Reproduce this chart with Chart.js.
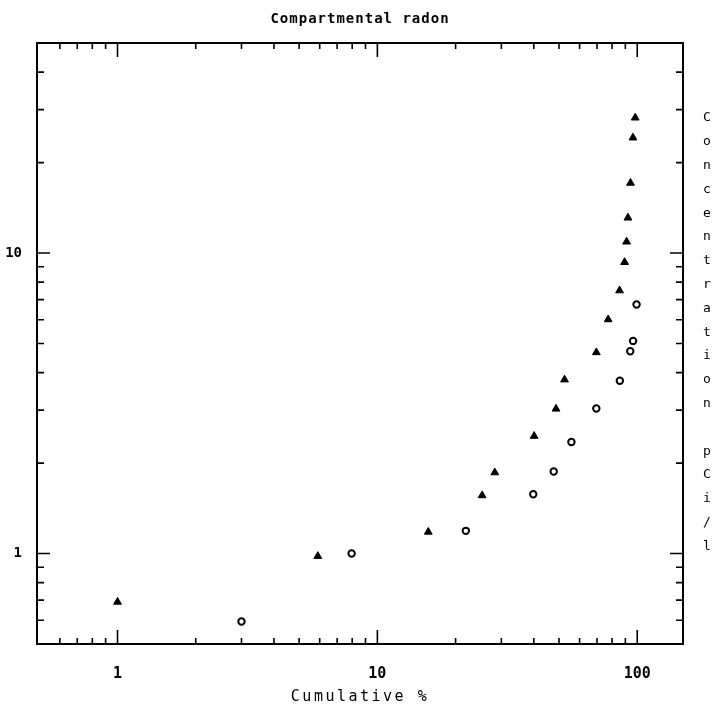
<!DOCTYPE html>
<html><head><meta charset="utf-8">
<script src="https://cdn.jsdelivr.net/npm/chart.js@4/dist/chart.umd.min.js"></script>
<style>html,body{margin:0;padding:0;background:#fff}#wrap{width:715px;height:718px;position:relative}</style>
</head><body><div id="wrap"><canvas id="c" width="715" height="718"></canvas></div>
<script>
// Data
const filledX = [1.0, 5.9, 15.7, 25.3, 28.3, 40.1, 48.7, 52.5, 69.6, 77.3, 85.5, 89.4, 91.0, 92.1, 94.2, 96.3, 98.2];
const filledY = [0.69, 0.98, 1.18, 1.56, 1.86, 2.46, 3.03, 3.79, 4.67, 6.01, 7.5, 9.32, 10.9, 13.1, 17.1, 24.2, 28.2];
const openX = [3.0, 7.96, 21.9, 39.8, 47.7, 55.8, 69.6, 85.7, 94.0, 96.4, 99.4];
const openY = [0.594, 1.0, 1.19, 1.575, 1.875, 2.35, 3.04, 3.76, 4.71, 5.1, 6.74];

const xMajorTicks = [1, 10, 100];
const xMinorTicks = [0.6, 0.7, 0.8, 0.9, 2, 3, 4, 5, 6, 7, 8, 9, 20, 30, 40, 50, 60, 70, 80, 90];
const yMajorTicks = [1, 10];
const yMinorTicks = [0.6, 0.7, 0.8, 0.9, 2, 3, 4, 5, 6, 7, 8, 9, 20, 30, 40];

const titleText = 'Compartmental radon';
const xTitle = 'Cumulative %';
const yTitle = 'Concentration pCi/l';

const toPts = (xs, ys) => xs.map((v, i) => ({x: v, y: ys[i]}));

const frame = {
  id: 'frame',
  afterDraw(chart) {
    const {ctx, chartArea: a, scales: {x, y}} = chart;
    ctx.save();
    ctx.strokeStyle = '#000';
    ctx.lineWidth = 2;
    ctx.strokeRect(a.left, a.top, a.right - a.left, a.bottom - a.top);
    ctx.lineWidth = 1.6;
    ctx.beginPath();
    const xt = (v, len) => {
      const p = x.getPixelForValue(v);
      ctx.moveTo(p, a.bottom); ctx.lineTo(p, a.bottom - len);
      ctx.moveTo(p, a.top); ctx.lineTo(p, a.top + len);
    };
    const yt = (v, len) => {
      const p = y.getPixelForValue(v);
      ctx.moveTo(a.left, p); ctx.lineTo(a.left + len, p);
      ctx.moveTo(a.right, p); ctx.lineTo(a.right - len, p);
    };
    xMajorTicks.forEach(v => xt(v, 14));
    xMinorTicks.forEach(v => xt(v, 6));
    yMajorTicks.forEach(v => yt(v, 13));
    yMinorTicks.forEach(v => yt(v, 7));
    ctx.stroke();
    ctx.fillStyle = '#000';
    ctx.textAlign = 'center';
    ctx.textBaseline = 'middle';
    const cx = (a.left + a.right) / 2;
    // chart title
    ctx.font = 'bold 14px "DejaVu Sans Mono"';
    ctx.letterSpacing = '1px';
    ctx.fillText(titleText, cx, 19);
    // x-axis title
    ctx.font = '15px "DejaVu Sans Mono"';
    ctx.letterSpacing = '2.5px';
    ctx.fillText(xTitle, cx, 697);
    ctx.letterSpacing = '0px';
    // vertical y-axis title, one character per line
    ctx.font = '13px "DejaVu Sans Mono"';
    [...yTitle].forEach((ch, i) => ctx.fillText(ch, 707, 118 + i * 23.8));
    ctx.restore();
  }
};

new Chart(document.getElementById('c'), {
  type: 'scatter',
  data: {
    datasets: [
      {label: 'filled', data: toPts(filledX, filledY), pointStyle: 'triangle', pointRadius: 4.5,
       backgroundColor: '#000', borderColor: '#000', borderWidth: 1},
      {label: 'open', data: toPts(openX, openY), pointStyle: 'circle', pointRadius: 3.2,
       backgroundColor: '#fff', borderColor: '#000', borderWidth: 2}
    ]
  },
  options: {
    responsive: false,
    animation: false,
    events: [],
    layout: {padding: {top: 43, right: 32, left: 0, bottom: 0}},
    plugins: {
      legend: {display: false},
      tooltip: {enabled: false},
      title: {display: false}
    },
    scales: {
      x: {
        type: 'logarithmic', min: 0.49, max: 150,
        grid: {display: false}, border: {display: false},
        afterBuildTicks: s => { s.ticks = xMajorTicks.map(v => ({value: v, major: true})); },
        afterFit: s => { s.height = 74; },
        ticks: {autoSkip: false, maxRotation: 0, padding: 13, color: '#000',
          font: {family: '"DejaVu Sans Mono"', size: 15, weight: 'bold'},
          callback: v => String(v)}
      },
      y: {
        type: 'logarithmic', min: 0.5, max: 50,
        grid: {display: false}, border: {display: false},
        afterBuildTicks: s => { s.ticks = yMajorTicks.map(v => ({value: v, major: true})); },
        afterFit: s => { s.width = 37; },
        ticks: {autoSkip: false, padding: 7, color: '#000',
          font: {family: '"DejaVu Sans Mono"', size: 14, weight: 'bold'},
          callback: v => String(v)}
      }
    }
  },
  plugins: [frame]
});
</script>
</body></html>
